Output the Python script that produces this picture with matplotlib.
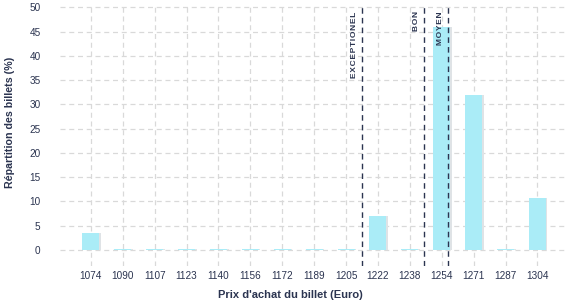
import matplotlib
matplotlib.use("Agg")
import matplotlib.pyplot as plt
import numpy as np

plt.rcParams['font.family'] = ['Liberation Sans', 'DejaVu Sans']

# price categories and share of tickets (%)
prices = ['1074', '1090', '1107', '1123', '1140', '1156', '1172', '1189',
          '1205', '1222', '1238', '1254', '1271', '1287', '1304']
shares = [3.5, 0.2, 0.2, 0.2, 0.2, 0.2, 0.2, 0.2, 0.2, 7.0, 0.2, 46.0, 31.9, 0.2, 10.7]

# reference price thresholds
thresholds = ['EXCEPTIONEL', 'BON', 'MOYEN']
threshold_prices = [1213.5, 1245.5, 1257.7]

text_col = '#2b3450'
bar_col = '#aaecf7'

x = np.arange(len(prices))
p0, p1 = float(prices[0]), float(prices[-1])
step = (p1 - p0) / (len(prices) - 1)

fig, ax = plt.subplots(figsize=(5.77, 3.0), dpi=100)
fig.subplots_adjust(left=0.104, right=0.98, top=0.98, bottom=0.115)

# faint shadow then bar
ax.bar(x + 0.05, shares, width=0.53, color='#dfe3e6', zorder=2)
ax.bar(x, shares, width=0.53, color=bar_col, zorder=3)

for name, p in zip(thresholds, threshold_prices):
    xp = (p - p0) / step
    ax.axvline(xp, color=text_col, linestyle=(0, (4, 3)), linewidth=1.0, zorder=4)
    ax.text(xp - 0.12, 49.2, '\u200a'.join(name), rotation=90, ha='right', va='top',
            fontsize=6.0, fontweight='bold', color=text_col, zorder=5)

ax.set_xlim(-0.97, 14.88)
ax.set_ylim(-3.2, 50.3)
ax.set_yticks(range(0, 51, 5))
ax.set_xticks(x)
ax.set_xticklabels(prices)
ax.grid(True, color='#d9d9d9', linestyle=(0, (4, 3)), linewidth=0.9, zorder=0)
for s in ax.spines.values():
    s.set_visible(False)
ax.tick_params(axis='x', length=0, labelsize=7.2, colors=text_col, pad=4)
ax.tick_params(axis='y', length=0, labelsize=7.2, colors=text_col, pad=14)

ax.set_xlabel("Prix d'achat du billet (Euro)", fontsize=8.0, fontweight='bold',
              color=text_col)
ax.set_ylabel("Répartition des billets (%)", fontsize=7.7, fontweight='bold',
              color=text_col)
ax.xaxis.set_label_coords(0.455, -0.093)
ax.yaxis.set_label_coords(-0.089, 0.55)

fig.savefig('out.png', dpi=100)
